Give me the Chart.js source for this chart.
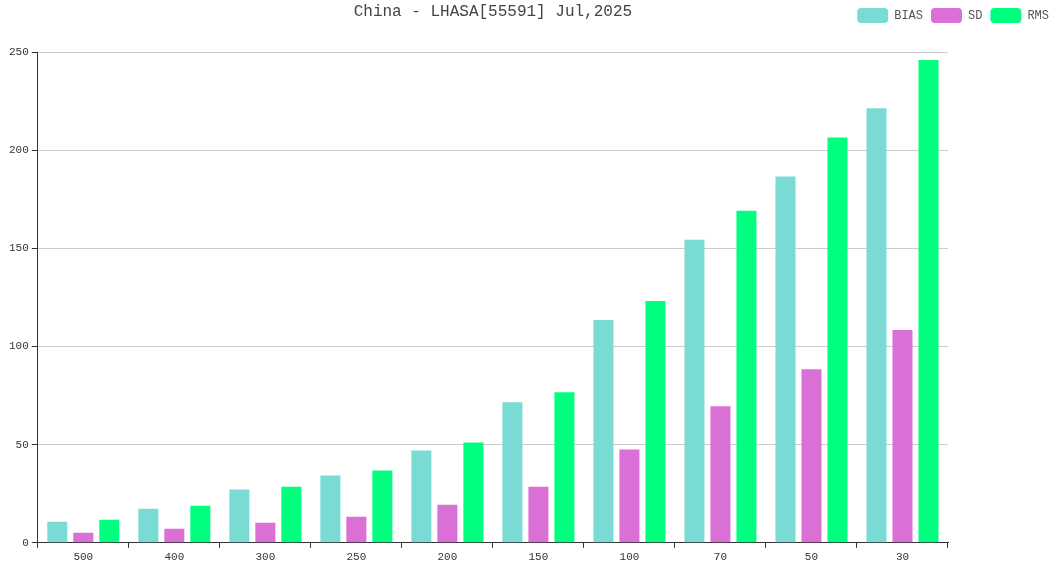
<!DOCTYPE html>
<html>
<head>
<meta charset="utf-8">
<script src="https://cdn.jsdelivr.net/npm/chart.js@4.4.1/dist/chart.umd.min.js"></script>
<style>
  html,body{margin:0;padding:0;background:#fff;overflow:hidden;}
  #wrap{width:1057px;height:567px;position:relative;}
</style>
</head>
<body>
<div id="wrap"><canvas id="chart" width="1057" height="567"></canvas></div>
<script>
// ── DATOS ───────────────────────────────────────────────
const titleText = 'China - LHASA[55591] Jul,2025';
const levels = ['500','400','300','250','200','150','100','70','50','30'];
const biasVals = [10.7, 17.4, 27.1, 34.3, 47.0, 71.6, 113.5, 154.4, 186.6, 221.4];
const sdVals   = [5.1, 7.2, 10.2, 13.3, 19.4, 28.6, 47.5, 69.5, 88.4, 108.4];
const rmsVals  = [11.8, 18.9, 28.6, 36.8, 51.1, 76.7, 123.2, 169.2, 206.5, 245.9];

const FONT = "'Liberation Mono', 'DejaVu Sans Mono', monospace";
Chart.defaults.font.family = FONT;
Chart.defaults.color = '#333';

// título dibujado en la misma franja que la leyenda
const titlePlugin = {
  id:'topTitle',
  afterDraw(chart){
    const {ctx, chartArea} = chart;
    ctx.save();
    ctx.font = '16px ' + FONT;
    ctx.fillStyle = '#444';
    ctx.textAlign = 'center';
    ctx.textBaseline = 'middle';
    ctx.fillText(titleText, (chartArea.left + chartArea.right)/2, 12);
    ctx.restore();
  }
};

// espacio extra bajo la leyenda
const legendGap = {
  id:'legendGap',
  beforeInit(chart){
    const fit = chart.legend.fit;
    chart.legend.fit = function(){ fit.bind(chart.legend)(); this.height += 19; };
  }
};

new Chart(document.getElementById('chart'), {
  type:'bar',
  data:{
    labels: levels,
    datasets:[
      { label:'BIAS', data:biasVals, backgroundColor:'#7adbd4' },
      { label:'SD',   data:sdVals,   backgroundColor:'#da70d6' },
      { label:'RMS',  data:rmsVals,  backgroundColor:'#00ff7f' },
    ]
  },
  plugins:[titlePlugin, legendGap],
  options:{
    responsive:false,
    animation:false,
    devicePixelRatio:1,
    categoryPercentage:0.857,
    barPercentage:0.77,
    layout:{ padding:{ left:6, right:0, top:0, bottom:0 } },
    plugins:{
      legend:{
        position:'top',
        align:'end',
        labels:{
          boxWidth:31, boxHeight:15, padding:8,
          useBorderRadius:true, borderRadius:4,
          color:'#555',
          font:{ size:12, family:FONT }
        }
      },
      tooltip:{ enabled:false }
    },
    scales:{
      x:{
        offset:true,
        grid:{ offset:true, drawOnChartArea:false, drawTicks:true, tickLength:5, tickColor:'#333' },
        border:{ color:'#333', width:1 },
        ticks:{ font:{ size:11 }, color:'#333', padding:3, maxRotation:0 }
      },
      y:{
        min:0, max:250,
        ticks:{ stepSize:50, font:{ size:11 }, color:'#333', padding:3 },
        grid:{ color:'#ccc', tickLength:6, tickColor:'#333' },
        border:{ color:'#333', width:1 }
      },
      yPad:{
        position:'right',
        display:true,
        ticks:{ display:false },
        grid:{ display:false, drawTicks:false },
        border:{ display:false },
        afterFit(scale){ scale.width = 109; }
      }
    }
  }
});
</script>
</body>
</html>
